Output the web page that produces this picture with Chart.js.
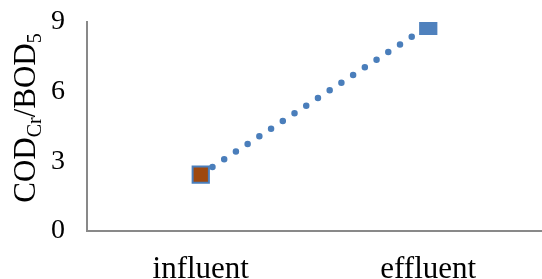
<!DOCTYPE html>
<html>
<head>
<meta charset="utf-8">
<script src="https://cdn.jsdelivr.net/npm/chart.js@4.4.1/dist/chart.umd.min.js"></script>
<style>
  html, body { margin: 0; padding: 0; background: #fff; }
  #wrap { width: 542px; height: 279px; position: relative; }
</style>
</head>
<body>
<div id="wrap"><canvas id="c" width="542" height="279"></canvas></div>
<script>
const categories = ['influent', 'effluent'];
const ratioValues = [2.43, 8.83];
const yTicks = [0, 3, 6, 9];
const yTitleParts = [
  { text: 'COD', sub: false },
  { text: 'Cr', sub: true },
  { text: '/BOD', sub: false },
  { text: '5', sub: true }
];

const serif = "'Liberation Serif', 'Times New Roman', serif";

const yTitlePlugin = {
  id: 'yTitle',
  afterDraw(chart) {
    const ctx = chart.ctx;
    const big = 31, small = 20;
    ctx.save();
    ctx.fillStyle = '#000';
    ctx.textBaseline = 'alphabetic';
    let total = 0;
    yTitleParts.forEach(p => {
      ctx.font = (p.sub ? small : big) + 'px ' + serif;
      total += ctx.measureText(p.text).width;
    });
    ctx.translate(35, 118);
    ctx.rotate(-Math.PI / 2);
    let x = -total / 2;
    yTitleParts.forEach(p => {
      ctx.font = (p.sub ? small : big) + 'px ' + serif;
      ctx.fillText(p.text, x, p.sub ? 6 : 0);
      x += ctx.measureText(p.text).width;
    });
    ctx.restore();
  }
};

new Chart(document.getElementById('c'), {
  type: 'line',
  data: {
    labels: categories,
    datasets: [{
      data: ratioValues,
      borderColor: '#4A7EBB',
      borderWidth: 6.5,
      borderDash: [0, 14],
      borderCapStyle: 'round',
      tension: 0,
      fill: false,
      pointStyle: 'rect',
      pointRadius: 11.5,
      pointHoverRadius: 11.5,
      pointBorderWidth: 2,
      pointBackgroundColor: ['#9E480E', '#4F81BD'],
      pointBorderColor: ['#4A7EBB', '#4F81BD']
    }]
  },
  options: {
    responsive: false,
    animation: false,
    events: [],
    layout: { autoPadding: false, padding: { top: 22, right: 0, left: 0, bottom: 0 } },
    plugins: { legend: { display: false }, tooltip: { enabled: false }, title: { display: false } },
    scales: {
      x: {
        offset: true,
        grid: { display: false, drawTicks: false },
        border: { display: true, color: '#898989', width: 2 },
        ticks: { color: '#000', font: { family: serif, size: 31 }, padding: 20, maxRotation: 0 },
        afterFit(scale) { scale.height = 48; scale.paddingLeft = 0; scale.paddingRight = 0; }
      },
      y: {
        min: 0, max: 9,
        afterBuildTicks(scale) { scale.ticks = yTicks.map(v => ({ value: v })); },
        grid: { display: false, drawTicks: false },
        border: { display: true, color: '#898989', width: 2 },
        ticks: { color: '#000', font: { family: serif, size: 28 }, padding: 22 },
        afterFit(scale) { scale.width = 87; scale.paddingTop = 0; scale.paddingBottom = 0; }
      }
    }
  },
  plugins: [yTitlePlugin]
});
</script>
</body>
</html>
